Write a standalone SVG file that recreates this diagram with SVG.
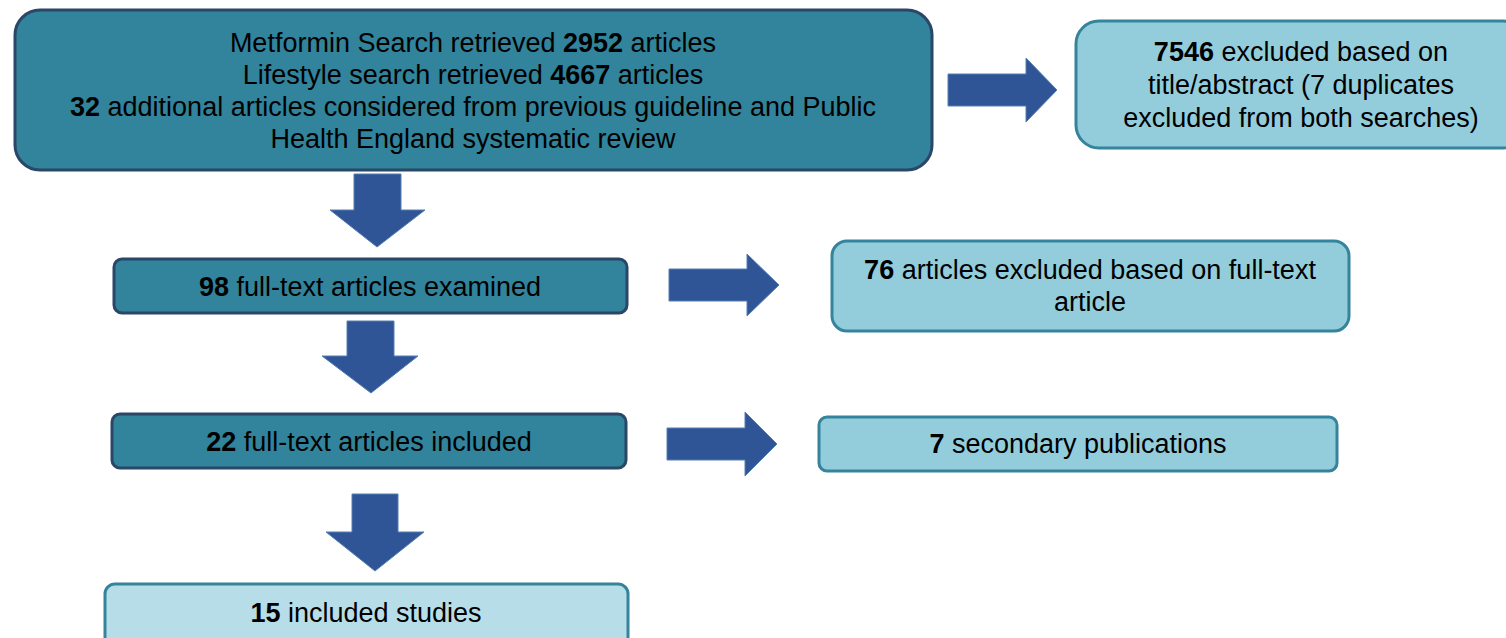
<svg xmlns="http://www.w3.org/2000/svg" width="1506" height="638" viewBox="0 0 1506 638">
<style>
  text { font-family: "Liberation Sans", Arial, sans-serif; font-size: 27px; fill: #000; text-anchor: middle; }
  .b { font-weight: bold; }
  .dark { fill: #31849b; stroke: #2a4768; stroke-width: 3; }
  .light { fill: #93cddc; stroke: #35849c; stroke-width: 3; }
  .pale { fill: #b7dee8; stroke: #35849c; stroke-width: 3; }
  .arrow { fill: #2f5596; stroke: #5580b4; stroke-width: 1; }
</style>
<rect x="0" y="0" width="1506" height="638" fill="#ffffff"/>
<g id="connectors">
  <polygon class="arrow" points="948,74 1026,74 1026,58 1057,90 1026,122 1026,106 948,106"/>
  <polygon class="arrow" points="354,174 401,174 401,210 425,210 377,247 330,210 354,210"/>
  <polygon class="arrow" points="669,269 747,269 747,254 779,285 747,316 747,301 669,301"/>
  <polygon class="arrow" points="347,321 394,321 394,356 418,356 371,393 322,356 347,356"/>
  <polygon class="arrow" points="667,428 745,428 745,412 777,444 745,476 745,460 667,460"/>
  <polygon class="arrow" points="352,494 398,494 398,532 424,532 375,571 326,532 352,532"/>
</g>
<g id="search">
  <rect class="dark" x="15" y="10" width="917" height="160" rx="25"/>
  <text x="473" y="52">Metformin Search retrieved <tspan class="b">2952</tspan> articles</text>
  <text x="473" y="84">Lifestyle search retrieved <tspan class="b">4667</tspan> articles</text>
  <text x="473" y="116"><tspan class="b">32</tspan> additional articles considered from previous guideline and Public</text>
  <text x="473" y="148">Health England systematic review</text>
</g>
<g id="excluded-title">
  <rect class="light" x="1076" y="21" width="450" height="127" rx="23"/>
  <text x="1301" y="61"><tspan class="b">7546</tspan> excluded based on</text>
  <text x="1301" y="94">title/abstract (7 duplicates</text>
  <text x="1301" y="127">excluded from both searches)</text>
</g>
<g id="fulltext-examined">
  <rect class="dark" x="114" y="259" width="513" height="54" rx="8"/>
  <text x="370" y="296"><tspan class="b">98</tspan> full-text articles examined</text>
</g>
<g id="excluded-fulltext">
  <rect class="light" x="832" y="241" width="517" height="90" rx="15"/>
  <text x="1090" y="279"><tspan class="b">76</tspan> articles excluded based on full-text</text>
  <text x="1090" y="311">article</text>
</g>
<g id="fulltext-included">
  <rect class="dark" x="112" y="414" width="514" height="54" rx="8"/>
  <text x="369" y="451"><tspan class="b">22</tspan> full-text articles included</text>
</g>
<g id="secondary">
  <rect class="light" x="819" y="417" width="518" height="54" rx="8"/>
  <text x="1078" y="453"><tspan class="b">7</tspan> secondary publications</text>
</g>
<g id="included-studies">
  <rect class="pale" x="105" y="584" width="523" height="70" rx="10"/>
  <text x="366" y="622"><tspan class="b">15</tspan> included studies</text>
</g>
</svg>
